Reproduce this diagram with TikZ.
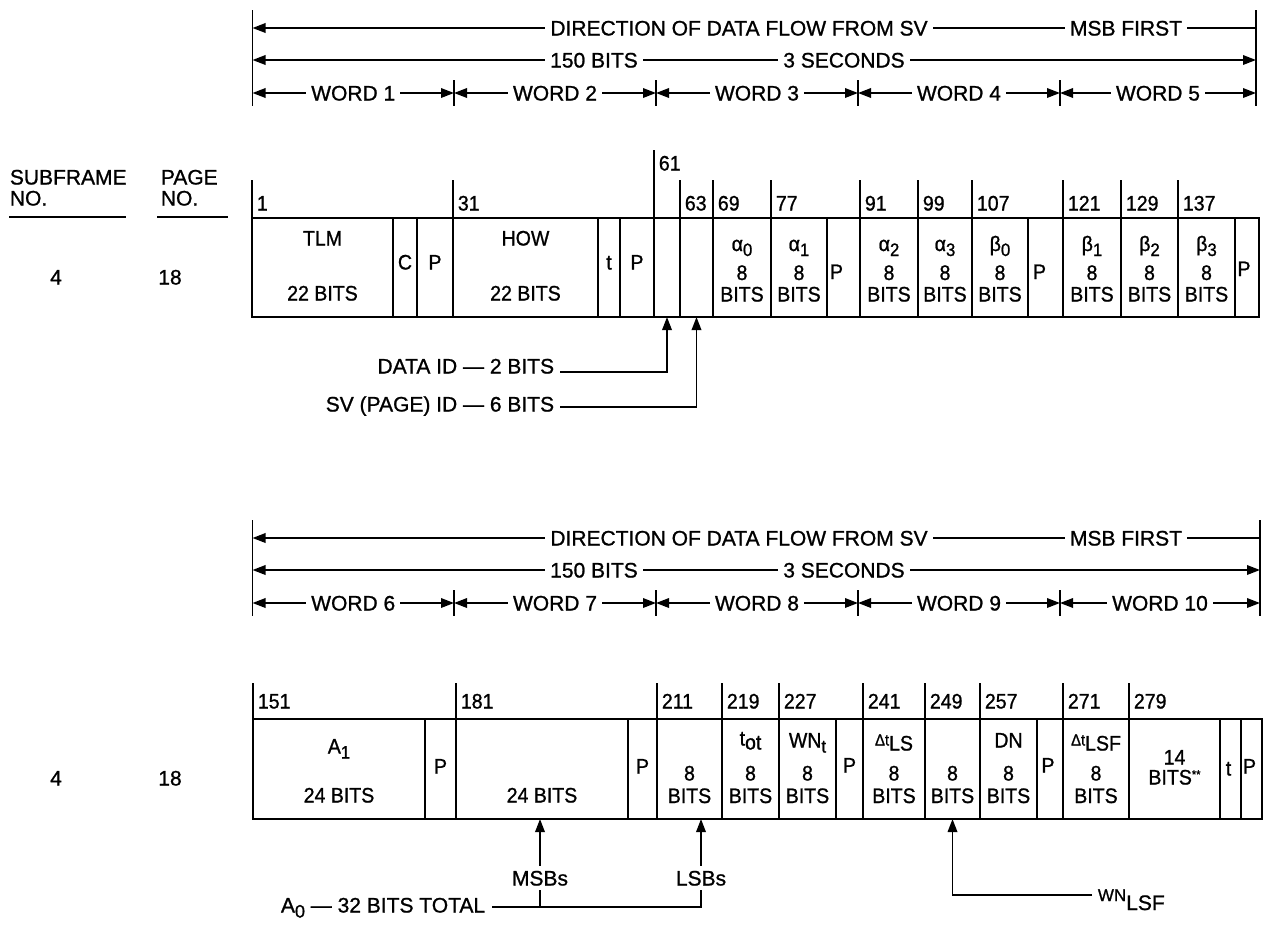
\documentclass[tikz,border=0pt]{standalone}
\usepackage{fontspec}
\setmainfont{Liberation Sans}[FakeBold=1]
\newfontfamily\nfont{Liberation Sans}[FakeStretch=0.93,FakeBold=1]
\usetikzlibrary{arrows.meta,calc}
\newcommand\hfnt{\fontsize{21}{22}\selectfont}
\newcommand\ffnt{\nfont\fontsize{21}{22}\selectfont}
\newcommand\sbs[1]{\raisebox{-5pt}{\fontsize{18}{18}\selectfont #1}}
% frame-1 cell: name, x1, x2
\newcommand\fa[3]{\node[cellA, minimum width={(#3-#2)*1pt}] (#1) at ({(#2+#3)/2},267.5) {};}
% frame-2 cell
\newcommand\fb[3]{\node[cellB, minimum width={(#3-#2)*1pt}] (#1) at ({(#2+#3)/2},769) {};}
% tick: cell, tick length, label offset, label
\newcommand\tk[4]{\draw (#1.north west) -- ++(0,-#2);
  \node[ft,anchor=west] (#1-n) at ($(#1.north west)+(4,-#3)$) {#4};}
% cell text: cell, suffix, dx, dy, text
\newcommand\ct[5]{\node[ft] (#1-#2) at ($(#1.center)+(#3,#4)$) {#5};}
% 8-bit cell texts, frame 1
\newcommand\eba[2]{\ct{#1}{a}{0}{-24}{#2}\ct{#1}{b}{0}{5}{8}\ct{#1}{c}{0}{26.5}{BITS}}
% 8-bit cell texts, frame 2
\newcommand\ebb[3]{\ct{#1}{a}{0}{#3}{#2}\ct{#1}{b}{0}{4}{8}\ct{#1}{c}{0}{26.5}{BITS}}
% header block: y offset, right x, first word number
\newcommand\header[3]{%
 \begin{scope}[yshift={-#1pt}]
  \draw (252.5,10) -- (252.5,106);
  \draw (#2,10) -- (#2,106);
  \draw[<-] (252.5,28) -- (#2,28);
  \node[hdr] (s#3dir) at (739,28) {DIRECTION OF DATA FLOW FROM SV};
  \node[hdr] (s#3msb) at (1126,28) {MSB FIRST};
  \draw[<->] (252.5,60) -- (#2,60);
  \node[hdr] (s#3bits) at (594,60) {150 BITS};
  \node[hdr] (s#3sec) at (844,60) {3 SECONDS};
  \foreach \x in {454,656,858,1060} \draw (\x,80) -- (\x,106);
  \foreach \a/\b/\n in {252.5/454/0,454/656/1,656/858/2,858/1060/3,1060/#2/4}{
    \draw[<->] (\a,93) -- (\b,93);
    \pgfmathtruncatemacro\w{#3+\n}
    \node[hdr] (s#3w\n) at ({(\a+\b)/2},93) {WORD \w};
  }
 \end{scope}}

\begin{document}
\begin{tikzpicture}[x=1pt,y=-1pt,line width=1.8pt,
  >={Triangle[length=13pt,width=9.5pt]},
  hdr/.style={font=\hfnt, fill=white, inner xsep=5pt, inner ysep=1pt, text height=15pt, text depth=0pt},
  txt/.style={font=\hfnt, inner sep=0pt, text height=15pt, text depth=0pt},
  ft/.style={font=\ffnt, inner sep=0pt, text height=15pt, text depth=0pt},
  cellA/.style={draw, inner sep=0pt, outer sep=0pt, minimum height=99pt},
  cellB/.style={draw, inner sep=0pt, outer sep=0pt, minimum height=100pt}]
\useasboundingbox (0,0) rectangle (1266,924);

% ---------------- headers
\header{0}{1256}{1}
\header{510}{1260}{6}

% ---------------- left labels
\node[txt,anchor=west] (sf1) at (9,177) {SUBFRAME};
\node[txt,anchor=west] (sf2) at (9,198) {NO.};
\draw[line width=1.5pt] (9,217) -- (126,217);
\node[txt,anchor=west] (pg1) at (160,177) {PAGE};
\node[txt,anchor=west] (pg2) at (160,198) {NO.};
\draw[line width=1.5pt] (157,217) -- (228,217);
\node[txt] (sfa) at (56,277) {4};
\node[txt] (pga) at (170,277) {18};
\node[txt] (sfb) at (56,778) {4};
\node[txt] (pgb) at (170,778) {18};

% ---------------- frame 1
\fa{tlm}{252}{393}
\fa{cc}{393}{417}
\fa{pa}{417}{453}
\fa{how}{453}{598}
\fa{ta}{598}{620}
\fa{pb}{620}{654}
\fa{c61}{654}{680}
\fa{c63}{680}{713}
\fa{c69}{713}{771}
\fa{c77}{771}{827}
\fa{pc}{827}{860}
\fa{c91}{860}{918}
\fa{c99}{918}{972}
\fa{c107}{972}{1028}
\fa{pd}{1028}{1063}
\fa{c121}{1063}{1121}
\fa{c129}{1121}{1178}
\fa{c137}{1178}{1235}
\fa{pe}{1235}{1259}

\tk{tlm}{38}{15}{1}
\tk{how}{38}{15}{31}
\tk{c61}{68}{55}{61}
\tk{c63}{38}{15}{63}
\tk{c69}{38}{15}{69}
\tk{c77}{38}{15}{77}
\tk{c91}{38}{15}{91}
\tk{c99}{38}{15}{99}
\tk{c107}{38}{15}{107}
\tk{c121}{38}{15}{121}
\tk{c129}{38}{15}{129}
\tk{c137}{38}{15}{137}

\ct{tlm}{a}{0}{-29.5}{TLM}
\ct{tlm}{b}{0}{25.5}{22 BITS}
\ct{cc}{a}{0}{-5.5}{C}
\ct{pa}{a}{0}{-5.5}{P}
\ct{how}{a}{0}{-29.5}{HOW}
\ct{how}{b}{0}{25.5}{22 BITS}
\ct{ta}{a}{0}{-5.5}{t}
\ct{pb}{a}{0}{-5.5}{P}
\eba{c69}{α\sbs{0}}
\eba{c77}{α\sbs{1}}
\ct{pc}{a}{-7}{4}{P}
\eba{c91}{α\sbs{2}}
\eba{c99}{α\sbs{3}}
\eba{c107}{β\sbs{0}}
\ct{pd}{a}{-6}{4}{P}
\eba{c121}{β\sbs{1}}
\eba{c129}{β\sbs{2}}
\eba{c137}{β\sbs{3}}
\ct{pe}{a}{-3}{1}{P}

\node[txt,anchor=east] (did) at (555,366) {DATA ID — 2 BITS};
\node[txt,anchor=east] (svid) at (555,404) {SV (PAGE) ID — 6 BITS};
\draw[->] ($(did.east)+(5,6)$) -| (c61.south);
\draw[->] ($(svid.east)+(5,3)$) -| (c63.south);

% ---------------- frame 2
\fb{aa}{253}{425}
\fb{qa}{425}{456}
\fb{c181}{456}{628}
\fb{qb}{628}{657}
\fb{c211}{657}{722}
\fb{c219}{722}{779}
\fb{c227}{779}{836}
\fb{qc}{836}{863}
\fb{c241}{863}{925}
\fb{c249}{925}{980}
\fb{c257}{980}{1037}
\fb{qd}{1037}{1063}
\fb{c271}{1063}{1129}
\fb{c279}{1129}{1220}
\fb{tb}{1220}{1241}
\fb{qe}{1241}{1262}

\tk{aa}{36}{18}{151}
\tk{c181}{36}{18}{181}
\tk{c211}{36}{18}{211}
\tk{c219}{36}{18}{219}
\tk{c227}{36}{18}{227}
\tk{c241}{36}{18}{241}
\tk{c249}{36}{18}{249}
\tk{c257}{36}{18}{257}
\tk{c271}{36}{18}{271}
\tk{c279}{36}{18}{279}

\ct{aa}{a}{0}{-23}{A\sbs{1}}
\ct{aa}{b}{0}{26}{24 BITS}
\ct{qa}{a}{0}{-3}{P}
\ct{c181}{b}{0}{26}{24 BITS}
\ct{qb}{a}{0}{-3}{P}
\ct{c211}{b}{0}{4}{8}
\ct{c211}{c}{0}{26.5}{BITS}
\ebb{c219}{t\raisebox{-4pt}{ot}}{-31}
\ebb{c227}{WN\sbs{t}}{-29}
\ct{qc}{a}{0}{-4}{P}
\ebb{c241}{{\fontsize{16}{16}\selectfont Δt}\raisebox{-5pt}{LS}}{-31}
\ct{c249}{b}{0}{4}{8}
\ct{c249}{c}{0}{26.5}{BITS}
\ebb{c257}{DN}{-29}
\ct{qd}{a}{-2}{-4}{P}
\ebb{c271}{{\fontsize{16}{16}\selectfont Δt}\raisebox{-5pt}{LSF}}{-31}
\ct{c279}{a}{0}{-12}{14}
\ct{c279}{b}{0}{8}{BITS\raisebox{6pt}{\fontsize{12}{12}\selectfont **}}
\ct{tb}{a}{-2}{-1}{t}
\ct{qe}{a}{-2}{-3}{P}

\node[txt,inner ysep=4pt] (msb) at (540,878) {MSBs};
\node[txt,inner ysep=4pt] (lsb) at (701,878) {LSBs};
\node[txt,anchor=east] (a0) at (486,905) {A\sbs{0} — 32 BITS TOTAL};
\coordinate (aj) at ($(a0.east)+(6,2)$);
\draw (aj) -| (lsb.south);
\draw (msb.south) -- (msb.south |- aj);
\draw[->] (msb.north) -- (msb.north |- c181.south);
\draw[->] (lsb.north) -- (lsb.north |- c211.south);
\node[anchor=base west, inner sep=0pt, font=\hfnt] (wn) at (1097,901) {{\fontsize{17}{17}\selectfont WN}\raisebox{-9pt}{LSF}};
\draw[->] ($(wn.base west)+(-5,-6)$) -| (c249.south);
\end{tikzpicture}
\end{document}
